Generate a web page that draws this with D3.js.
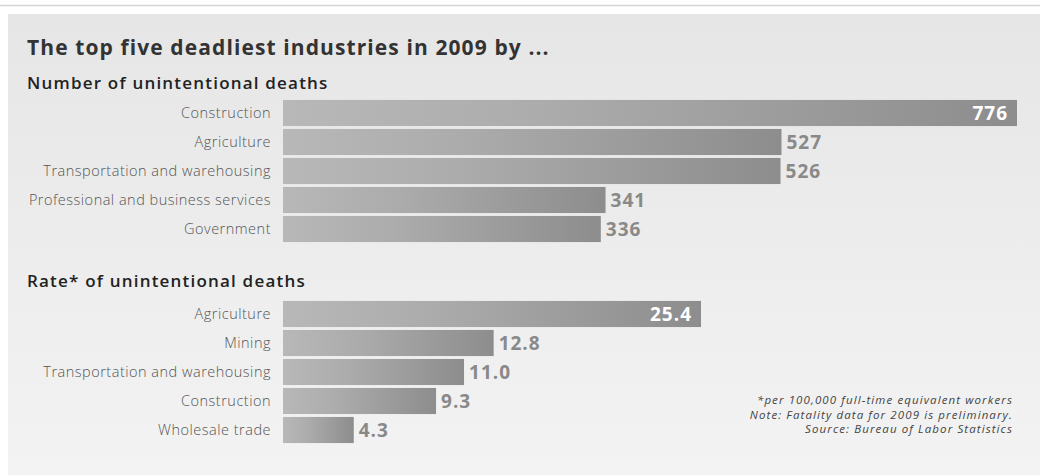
<!DOCTYPE html>
<html>
<head>
<meta charset="utf-8">
<script src="https://cdn.jsdelivr.net/npm/d3@7"></script>
<style>
  body { margin: 0; background: #fff; }
  svg { display: block; font-family: "Open Sans", Lato, sans-serif; }
</style>
</head>
<body>
<div id="chart"></div>
<script>
// data
const countCategories = ["Construction", "Agriculture", "Transportation and warehousing", "Professional and business services", "Government"];
const countValues = [776, 527, 526, 341, 336];
const rateCategories = ["Agriculture", "Mining", "Transportation and warehousing", "Construction", "Wholesale trade"];
const rateValues = [25.4, 12.8, 11.0, 9.3, 4.3];
const notes = [
    "*per 100,000 full-time equivalent workers",
    "Note: Fatality data for 2009 is preliminary.",
    "Source: Bureau of Labor Statistics"
];

const width = 1040;
const height = 475;
const barLeft = 283;

const svg = d3.select("#chart")
    .append("svg")
    .attr("width", width)
    .attr("height", height);

const defs = svg.append("defs");

const bgGrad = defs.append("linearGradient")
    .attr("id", "bgGrad")
    .attr("x1", 0).attr("y1", 0).attr("x2", 0).attr("y2", 1);
bgGrad.append("stop").attr("offset", "0%").attr("stop-color", "#e6e6e6");
bgGrad.append("stop").attr("offset", "100%").attr("stop-color", "#f3f3f3");

const barGrad = defs.append("linearGradient")
    .attr("id", "barGrad")
    .attr("x1", 0).attr("y1", 0).attr("x2", 1).attr("y2", 0);
barGrad.append("stop").attr("offset", "0%").attr("stop-color", "#b8b8b8");
barGrad.append("stop").attr("offset", "35%").attr("stop-color", "#acacac");
barGrad.append("stop").attr("offset", "100%").attr("stop-color", "#8d8d8d");

// top rule + panel
svg.append("line")
    .attr("x1", 0).attr("x2", width)
    .attr("y1", 5.5).attr("y2", 5.5)
    .attr("stroke", "#d6d6d6")
    .attr("stroke-width", 1.5);

svg.append("rect")
    .attr("x", 8)
    .attr("y", 14)
    .attr("width", width - 8)
    .attr("height", height - 14)
    .attr("fill", "url(#bgGrad)");

// titles
svg.append("text")
    .attr("x", 27).attr("y", 55)
    .attr("fill", "#333")
    .style("font-size", "21px")
    .style("font-weight", "bold")
    .style("letter-spacing", "1.1px")
    .text("The top five deadliest industries in 2009 by ...");

svg.append("text")
    .attr("x", 27).attr("y", 89)
    .attr("fill", "#222")
    .style("font-size", "17px")
    .style("font-weight", 600)
    .style("letter-spacing", "1.2px")
    .text("Number of unintentional deaths");

svg.append("text")
    .attr("x", 27).attr("y", 287)
    .attr("fill", "#222")
    .style("font-size", "17px")
    .style("font-weight", 600)
    .style("letter-spacing", "1.2px")
    .text("Rate* of unintentional deaths");

function drawBars(categories, values, top, maxPx, fmt) {
    const x = d3.scaleLinear()
        .domain([0, d3.max(values)])
        .range([0, maxPx]);

    const y = d3.scaleBand()
        .domain(categories)
        .range([top, top + 29 * categories.length])
        .paddingInner(0.1)
        .paddingOuter(0.05);

    const rows = svg.append("g")
        .selectAll("g")
        .data(categories)
        .join("g");

    rows.append("text")
        .attr("x", barLeft - 12)
        .attr("y", d => y(d) + y.bandwidth() / 2 + 5)
        .attr("text-anchor", "end")
        .attr("fill", "#555")
        .style("font-size", "14.5px")
        .style("font-weight", 300)
        .style("letter-spacing", "0.5px")
        .text(d => d);

    rows.append("rect")
        .attr("x", barLeft)
        .attr("y", d => y(d))
        .attr("width", (d, i) => x(values[i]))
        .attr("height", y.bandwidth())
        .attr("fill", "url(#barGrad)");

    const maxVal = d3.max(values);
    rows.append("text")
        .attr("x", (d, i) => values[i] === maxVal ? barLeft + x(values[i]) - 9 : barLeft + x(values[i]) + 5)
        .attr("y", d => y(d) + y.bandwidth() / 2 + 7)
        .attr("text-anchor", (d, i) => values[i] === maxVal ? "end" : "start")
        .attr("fill", (d, i) => values[i] === maxVal ? "#fff" : "#898989")
        .style("font-size", "19px")
        .style("font-weight", "bold")
        .style("letter-spacing", "1px")
        .text((d, i) => fmt(values[i]));
}

drawBars(countCategories, countValues, 98.5, 734, d3.format("d"));
drawBars(rateCategories, rateValues, 299.5, 418, d3.format(".1f"));

// footnotes
svg.append("g")
    .selectAll("text")
    .data(notes)
    .join("text")
    .attr("x", 1013)
    .attr("y", (d, i) => 404 + i * 14.5)
    .attr("text-anchor", "end")
    .attr("fill", "#444")
    .style("font-size", "11.5px")
    .style("font-style", "italic")
    .style("letter-spacing", "1.1px")
    .text(d => d);
</script>
</body>
</html>
